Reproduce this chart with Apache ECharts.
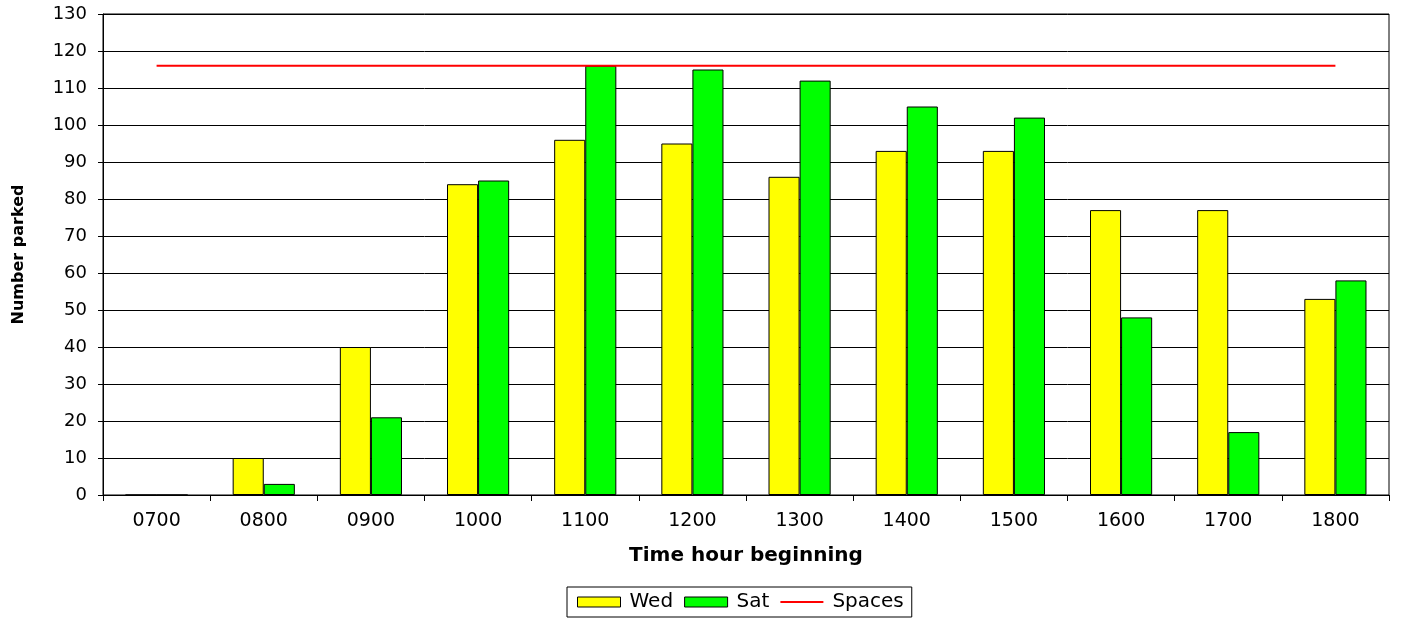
<!DOCTYPE html>
<html>
<head>
<meta charset="utf-8">
<script src="https://cdn.jsdelivr.net/npm/echarts@6/dist/echarts.min.js"></script>
<style>
  html, body { margin: 0; padding: 0; background: #fff; }
  #chart { width: 1402px; height: 619px; }
</style>
</head>
<body>
<div id="chart"></div>
<script>
// Hourly parking occupancy, Wednesday vs Saturday, against the number of spaces
const hours = ['0700', '0800', '0900', '1000', '1100', '1200', '1300', '1400', '1500', '1600', '1700', '1800'];
const wed = [0, 10, 40, 84, 96, 95, 86, 93, 93, 77, 77, 53];
const sat = [0, 3, 21, 85, 116, 115, 112, 105, 102, 48, 17, 58];
const spaces = [116, 116, 116, 116, 116, 116, 116, 116, 116, 116, 116, 116];
const yTicks = { min: 0, max: 130, interval: 10 };

const font = 'DejaVu Sans, Verdana, sans-serif';
const chart = echarts.init(document.getElementById('chart'));

chart.setOption({
  animation: false,
  textStyle: { fontFamily: font, color: '#000' },
  grid: {
    left: 103, right: 13, top: 14, bottom: 124,
    show: true, borderColor: '#000', borderWidth: 1
  },
  legend: {
    bottom: 2,
    left: 567,
    padding: [5, 8, 5, 10],
    borderColor: '#000',
    borderWidth: 1,
    itemWidth: 43,
    itemHeight: 10,
    itemGap: 11,
    textStyle: { fontSize: 20, fontFamily: font, color: '#000', padding: [0, 0, 0, 4] },
    data: [
      { name: 'Wed', icon: 'rect', itemStyle: { color: '#ffff00', borderColor: '#000', borderWidth: 1 } },
      { name: 'Sat', icon: 'rect', itemStyle: { color: '#00ff00', borderColor: '#000', borderWidth: 1 } },
      { name: 'Spaces', icon: 'path://M0,0 L40,0 L40,2 L0,2 Z', itemStyle: { color: '#ff0000' } }
    ]
  },
  xAxis: {
    type: 'category',
    data: hours,
    boundaryGap: true,
    name: 'Time hour beginning',
    nameLocation: 'middle',
    nameGap: 51,
    nameTextStyle: { fontSize: 20, fontWeight: 'bold', fontFamily: font, color: '#000' },
    axisLine: { lineStyle: { color: '#000', width: 1 } },
    axisTick: { show: true, length: 6, alignWithLabel: false, lineStyle: { color: '#000' } },
    axisLabel: { fontSize: 19, margin: 17, color: '#000', fontFamily: font }
  },
  yAxis: {
    type: 'value',
    min: yTicks.min,
    max: yTicks.max,
    interval: yTicks.interval,
    name: 'Number parked',
    nameLocation: 'middle',
    nameGap: 76,
    nameTextStyle: { fontSize: 16, fontWeight: 'bold', fontFamily: font, color: '#000' },
    axisLine: { show: true, lineStyle: { color: '#000', width: 1 } },
    axisTick: { show: true, length: 5, lineStyle: { color: '#000' } },
    axisLabel: { fontSize: 18, margin: 16, color: '#000', fontFamily: font },
    splitLine: { show: true, lineStyle: { color: '#000', width: 1 } }
  },
  series: [
    {
      name: 'Wed', type: 'bar', data: wed,
      barGap: '0%', barCategoryGap: '42%',
      itemStyle: { color: '#ffff00', borderColor: '#000', borderWidth: 1 }
    },
    {
      name: 'Sat', type: 'bar', data: sat,
      itemStyle: { color: '#00ff00', borderColor: '#000', borderWidth: 1 }
    },
    {
      name: 'Spaces', type: 'line', data: spaces,
      showSymbol: false, symbol: 'none',
      lineStyle: { color: '#ff0000', width: 2 },
      itemStyle: { color: '#ff0000' },
      z: 5
    }
  ]
});
</script>
</body>
</html>
